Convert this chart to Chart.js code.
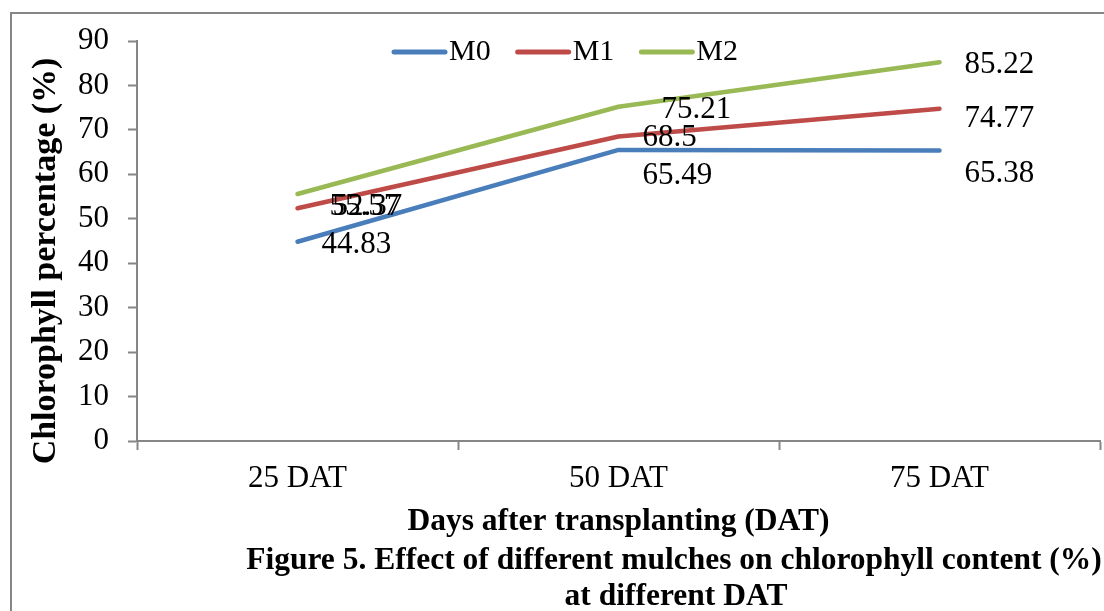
<!DOCTYPE html>
<html>
<head>
<meta charset="utf-8">
<title>Chlorophyll content under different mulches</title>
<script src="https://cdn.jsdelivr.net/npm/chart.js@4.4.0/dist/chart.umd.min.js"></script>
<style>
  html, body { margin: 0; padding: 0; background: #ffffff; }
  #wrap { width: 1104px; height: 611px; }
</style>
</head>
<body>
<div id="wrap"><canvas id="chart" width="1104" height="611"></canvas></div>
<script>
// Chlorophyll content (%) by mulch treatment and days after transplanting
const categories = ['25 DAT', '50 DAT', '75 DAT'];
const seriesNames = ['M0', 'M1', 'M2'];
const m0Values = [44.83, 65.49, 65.38];
const m1Values = [52.37, 68.5, 74.77];
const m2Values = [55.57, 75.21, 85.22];
const yTickValues = [0, 10, 20, 30, 40, 50, 60, 70, 80, 90];

const axisTitleY = 'Chlorophyll percentage (%)';
const axisTitleX = 'Days after transplanting (DAT)';
const captionLines = ['Figure 5. Effect of different mulches on chlorophyll content (%)', 'at different DAT'];

// styling
const SERIF = '"Liberation Serif", "Times New Roman", serif';
const AXIS_GREY = '#868686';
const seriesColors = ['#4A7EBB', '#BE4B48', '#98B954'];

// value-label nudges in pixels [dx, dy] from each point, per series
const labelNudge = [
  [[24, 3], [24, 26], [25, 23]],
  [[35, -1], [24, 1], [25, 10]],
  [[32, 13], [43, 3], [25, 3]]
];

const frame = {
  id: 'frame',
  beforeDraw(chart) {
    const ctx = chart.ctx;
    ctx.save();
    ctx.fillStyle = '#ffffff';
    ctx.fillRect(0, 0, chart.width, chart.height);
    ctx.strokeStyle = AXIS_GREY;
    ctx.lineWidth = 2;
    ctx.strokeRect(11, 13, chart.width + 40, chart.height + 40);
    ctx.restore();
  }
};

const valueLabels = {
  id: 'valueLabels',
  afterDatasetsDraw(chart) {
    const ctx = chart.ctx;
    ctx.save();
    ctx.font = '31px ' + SERIF;
    ctx.fillStyle = '#000000';
    ctx.textAlign = 'left';
    ctx.textBaseline = 'middle';
    chart.data.datasets.forEach((ds, i) => {
      const meta = chart.getDatasetMeta(i);
      meta.data.forEach((pt, j) => {
        const [dx, dy] = labelNudge[i][j];
        ctx.fillText(String(ds.data[j]), pt.x + dx, pt.y + dy);
      });
    });
    ctx.restore();
  }
};

const topLegend = {
  id: 'topLegend',
  afterDraw(chart) {
    const ctx = chart.ctx;
    ctx.save();
    ctx.font = '30px ' + SERIF;
    ctx.textAlign = 'left';
    ctx.textBaseline = 'middle';
    let x = 394;
    const y = 52;
    chart.data.datasets.forEach((ds) => {
      ctx.strokeStyle = ds.borderColor;
      ctx.lineWidth = 5;
      ctx.lineCap = 'round';
      ctx.beginPath();
      ctx.moveTo(x, y);
      ctx.lineTo(x + 51, y);
      ctx.stroke();
      ctx.fillStyle = '#000000';
      ctx.fillText(ds.label, x + 55, y);
      x += 55 + ctx.measureText(ds.label).width + 27;
    });
    ctx.restore();
  }
};

const sideTexts = {
  id: 'sideTexts',
  afterDraw(chart) {
    const ctx = chart.ctx;
    ctx.save();
    ctx.fillStyle = '#000000';
    ctx.textAlign = 'center';
    ctx.textBaseline = 'middle';
    // vertical axis title
    ctx.save();
    ctx.translate(46, 261);
    ctx.rotate(-Math.PI / 2);
    ctx.font = 'bold 34px ' + SERIF;
    ctx.fillText(axisTitleY, 0, 0);
    ctx.restore();
    // figure caption
    ctx.font = 'bold 31.5px ' + SERIF;
    ctx.fillText(captionLines[0], 674, 561);
    ctx.fillText(captionLines[1], 676, 597);
    ctx.restore();
  }
};

const series = [m0Values, m1Values, m2Values];

new Chart(document.getElementById('chart'), {
  type: 'line',
  data: {
    labels: categories,
    datasets: series.map((vals, i) => ({
      label: seriesNames[i],
      data: vals,
      borderColor: seriesColors[i],
      backgroundColor: seriesColors[i],
      borderWidth: 4.5,
      borderCapStyle: 'round',
      borderJoinStyle: 'round',
      pointRadius: 0,
      pointHoverRadius: 0,
      tension: 0,
      fill: false
    }))
  },
  options: {
    responsive: false,
    animation: false,
    events: [],
    layout: { padding: { left: 0, right: 4, top: 41, bottom: 0 } },
    plugins: {
      legend: { display: false },
      title: { display: false },
      tooltip: { enabled: false }
    },
    scales: {
      x: {
        type: 'category',
        offset: true,
        grid: {
          display: true,
          offset: true,
          drawOnChartArea: false,
          drawTicks: true,
          tickLength: 9,
          tickWidth: 2,
          color: AXIS_GREY,
          tickColor: AXIS_GREY
        },
        border: { display: true, color: AXIS_GREY, width: 2 },
        ticks: {
          font: { family: SERIF, size: 31 },
          color: '#000000',
          padding: 10,
          maxRotation: 0,
          autoSkip: false
        },
        title: {
          display: true,
          text: axisTitleX,
          color: '#000000',
          font: { family: SERIF, size: 31.5, weight: 'bold' },
          padding: { top: 0, bottom: 70 }
        },
        afterFit(scale) { scale.height = 170; }
      },
      y: {
        min: 0,
        max: 90,
        grid: {
          display: true,
          drawOnChartArea: false,
          drawTicks: true,
          tickLength: 9,
          tickWidth: 2,
          color: AXIS_GREY,
          tickColor: AXIS_GREY
        },
        border: { display: true, color: AXIS_GREY, width: 2 },
        ticks: {
          font: { family: SERIF, size: 31 },
          color: '#000000',
          padding: 19
        },
        afterBuildTicks(scale) {
          scale.ticks = yTickValues.map(v => ({ value: v }));
        },
        afterFit(scale) { scale.width = 137; }
      }
    }
  },
  plugins: [frame, valueLabels, topLegend, sideTexts]
});
</script>
</body>
</html>
